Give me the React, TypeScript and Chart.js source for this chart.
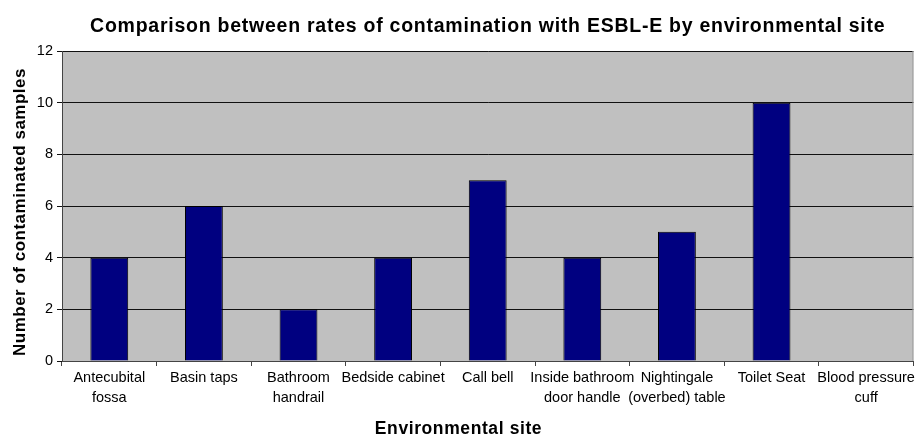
import React, { useEffect, useRef } from "react";
import { Chart, registerables } from "chart.js";

Chart.register(...registerables);

const categories: (string | string[])[] = [
  ["Antecubital", "fossa"],
  "Basin taps",
  ["Bathroom", "handrail"],
  "Bedside cabinet",
  "Call bell",
  ["Inside bathroom", "door handle"],
  ["Nightingale", "(overbed) table"],
  "Toilet Seat",
  ["Blood pressure", "cuff"],
];
const contaminated: number[] = [4, 6, 2, 4, 7, 4, 5, 10, 0];
const yTicks: number[] = [0, 2, 4, 6, 8, 10, 12];

const chartTitle = "Comparison between rates of contamination with ESBL-E by environmental site";
const xTitle = "Environmental site";
const yTitle = "Number of contaminated samples";

const FONT = "'Liberation Sans', Arial, sans-serif";

const plotDecor = {
  id: "plotDecor",
  beforeDraw(chart: any) {
    const { ctx, chartArea } = chart;
    ctx.save();
    ctx.fillStyle = "#C0C0C0";
    ctx.fillRect(chartArea.left, chartArea.top, chartArea.right - chartArea.left, chartArea.bottom - chartArea.top);
    ctx.restore();
  },
  afterDraw(chart: any) {
    const { ctx, chartArea, width } = chart;
    ctx.save();
    ctx.strokeStyle = "#9a9a9a";
    ctx.lineWidth = 1;
    ctx.beginPath();
    ctx.moveTo(chartArea.right - 0.5, chartArea.top);
    ctx.lineTo(chartArea.right - 0.5, chartArea.bottom);
    ctx.stroke();

    ctx.fillStyle = "#000";
    ctx.textAlign = "center";
    ctx.textBaseline = "alphabetic";
    ctx.font = `bold 19.5px ${FONT}`;
    (ctx as any).letterSpacing = "0.75px";
    ctx.fillText(chartTitle, (chartArea.left + chartArea.right) / 2, 31.5);

    ctx.font = `bold 17.5px ${FONT}`;
    (ctx as any).letterSpacing = "0.6px";
    ctx.fillText(xTitle, width / 2, 434);

    ctx.font = `bold 17px ${FONT}`;
    (ctx as any).letterSpacing = "0.5px";
    ctx.translate(25, (chartArea.top + chartArea.bottom) / 2 + 6);
    ctx.rotate(-Math.PI / 2);
    ctx.fillText(yTitle, 0, 0);
    ctx.restore();
  },
};

export default function App() {
  const ref = useRef<HTMLCanvasElement>(null);
  useEffect(() => {
    if (!ref.current) return;
    const chart = new Chart(ref.current, {
      type: "bar",
      data: {
        labels: categories,
        datasets: [
          {
            data: contaminated,
            backgroundColor: "#000080",
            borderColor: "#000000",
            borderWidth: 1,
            barPercentage: 0.4,
            categoryPercentage: 1,
          },
        ],
      },
      options: {
        responsive: false,
        animation: false,
        layout: { padding: { left: 0, right: 2, top: 51, bottom: 0 } },
        plugins: {
          legend: { display: false },
          tooltip: { enabled: false },
          title: { display: false },
        },
        scales: {
          x: {
            grid: {
              offset: true,
              drawOnChartArea: false,
              drawTicks: true,
              tickLength: 5,
              color: "#444",
            },
            border: { color: "#444", width: 1 },
            ticks: {
              color: "#000",
              font: { family: FONT, size: 14.5, lineHeight: 1.36 },
              autoSkip: false,
              maxRotation: 0,
              minRotation: 0,
              padding: 2,
            },
            afterFit(scale: any) {
              scale.height = 75;
            },
          },
          y: {
            min: 0,
            max: 12,
            afterBuildTicks(scale: any) {
              scale.ticks = yTicks.map((v) => ({ value: v }));
            },
            grid: {
              color: "#111",
              lineWidth: 1,
              drawTicks: true,
              tickLength: 5,
            },
            border: { color: "#444", width: 1 },
            ticks: {
              color: "#000",
              font: { family: FONT, size: 14.5 },
              padding: 4,
            },
            afterFit(scale: any) {
              scale.width = 62;
            },
          },
        },
      },
      plugins: [plotDecor],
    });
    return () => chart.destroy();
  }, []);
  return (
    <div style={{ position: "fixed", left: 0, top: 0, width: 917, height: 436, background: "#fff" }}>
      <canvas ref={ref} width={917} height={436} style={{ width: 917, height: 436 }} />
    </div>
  );
}
